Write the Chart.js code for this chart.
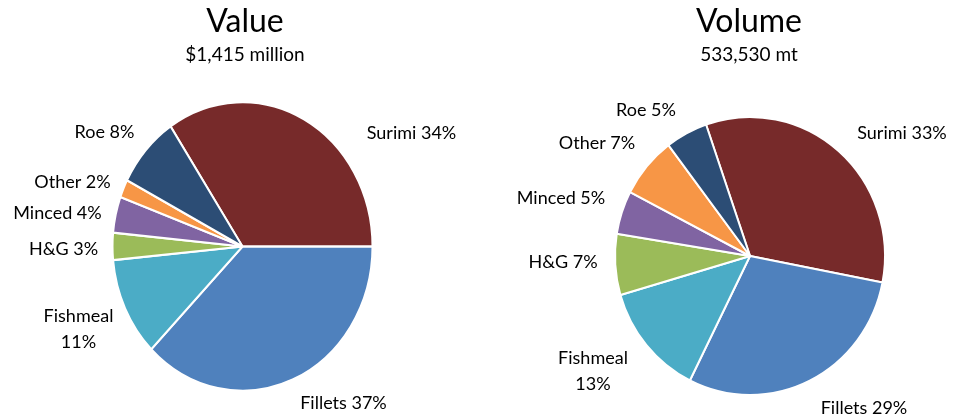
<!DOCTYPE html>
<html>
<head>
<meta charset="utf-8">
<script src="https://cdn.jsdelivr.net/npm/chart.js@4.4.1/dist/chart.umd.min.js"></script>
<style>
  html, body { margin: 0; padding: 0; background: #fff; }
  #wrap { position: relative; width: 953px; height: 419px; overflow: hidden; }
  canvas { position: absolute; top: 0; }
  #valueChart { left: 0; }
  #volumeChart { left: 476px; }
</style>
</head>
<body>
<div id="wrap">
  <canvas id="valueChart" width="476" height="419"></canvas>
  <canvas id="volumeChart" width="477" height="419"></canvas>
</div>
<script>
// product forms, clockwise from Surimi
const products = ['Surimi', 'Fillets', 'Fishmeal', 'H&G', 'Minced', 'Other', 'Roe'];
const valueShares = [34, 37, 11, 3, 4, 2, 8];
const volumeShares = [33, 29, 13, 7, 5, 7, 5];

const valueTitle = 'Value';
const valueSubtitle = '$1,415 million';
const volumeTitle = 'Volume';
const volumeSubtitle = '533,530 mt';

const sliceColors = ['#772A2A', '#4F81BD', '#4BACC6', '#9BBB59', '#8064A2', '#F79646', '#2C4D75'];

const labelFont = '18px Lato';
const textColor = '#000';

// text anchors relative to the pie centre
const valueLabelOffsets = [
  [169, -113], [101, 157], [-164, 83], [-179, 3], [-185, -33], [-170, -64], [-138, -114]
];
const volumeLabelOffsets = [
  [152, -123], [114, 152], [-157, 115], [-187, 6], [-189, -58], [-153, -113], [-104, -146]
];

// stretch the pie vertically around its centre
const stretchPlugin = {
  id: 'stretch',
  beforeDatasetsDraw(chart, args, opts) {
    const arc = chart.getDatasetMeta(0).data[0];
    const ctx = chart.ctx;
    ctx.save();
    ctx.translate(arc.x, arc.y);
    ctx.scale(1, opts.sy || 1);
    ctx.translate(-arc.x, -arc.y);
  },
  afterDatasetsDraw(chart) {
    chart.ctx.restore();
  }
};

const textPlugin = {
  id: 'pieText',
  afterDraw(chart, args, opts) {
    const ctx = chart.ctx;
    const meta = chart.getDatasetMeta(0);
    const ds = chart.data.datasets[0];
    ctx.save();
    ctx.fillStyle = '#000';
    ctx.textAlign = 'center';
    ctx.textBaseline = 'middle';
    ctx.font = '32px Lato';
    ctx.fillText(opts.title, opts.titleX, 22);
    ctx.font = '19px Lato';
    ctx.fillText(opts.subtitle, opts.titleX, 55);

    ctx.fillStyle = textColor;
    ctx.font = labelFont;
    meta.data.forEach((arc, i) => {
      const off = opts.offsets[i];
      const x = arc.x + off[0];
      const y = arc.y + off[1];
      const name = chart.data.labels[i];
      const pct = ds.data[i] + '%';
      if (name === 'Fishmeal') {
        ctx.fillText(name, x, y - 13);
        ctx.fillText(pct, x, y + 13);
      } else {
        ctx.fillText(name + ' ' + pct, x, y);
      }
    });
    ctx.restore();
  }
};

function makePie(id, shares, rotation, radius, sy, padding, titleInfo) {
  return new Chart(document.getElementById(id), {
    type: 'pie',
    data: {
      labels: products,
      datasets: [{
        data: shares,
        backgroundColor: sliceColors,
        borderColor: '#ffffff',
        borderWidth: 2
      }]
    },
    options: {
      responsive: false,
      animation: false,
      rotation: rotation,
      radius: radius,
      layout: { padding: padding },
      plugins: {
        legend: { display: false },
        tooltip: { enabled: false },
        stretch: { sy: sy },
        pieText: titleInfo
      }
    },
    plugins: [stretchPlugin, textPlugin]
  });
}

makePie('valueChart', valueShares, -33.6, 130, 1.11,
  { left: 112.5, right: 103.5, top: 116.5, bottom: 42.5 },
  { title: valueTitle, subtitle: valueSubtitle, titleX: 245, offsets: valueLabelOffsets });

makePie('volumeChart', volumeShares, -19, 135, 1.03,
  { left: 139, right: 68, top: 121, bottom: 28 },
  { title: volumeTitle, subtitle: volumeSubtitle, titleX: 273, offsets: volumeLabelOffsets });
</script>
</body>
</html>
